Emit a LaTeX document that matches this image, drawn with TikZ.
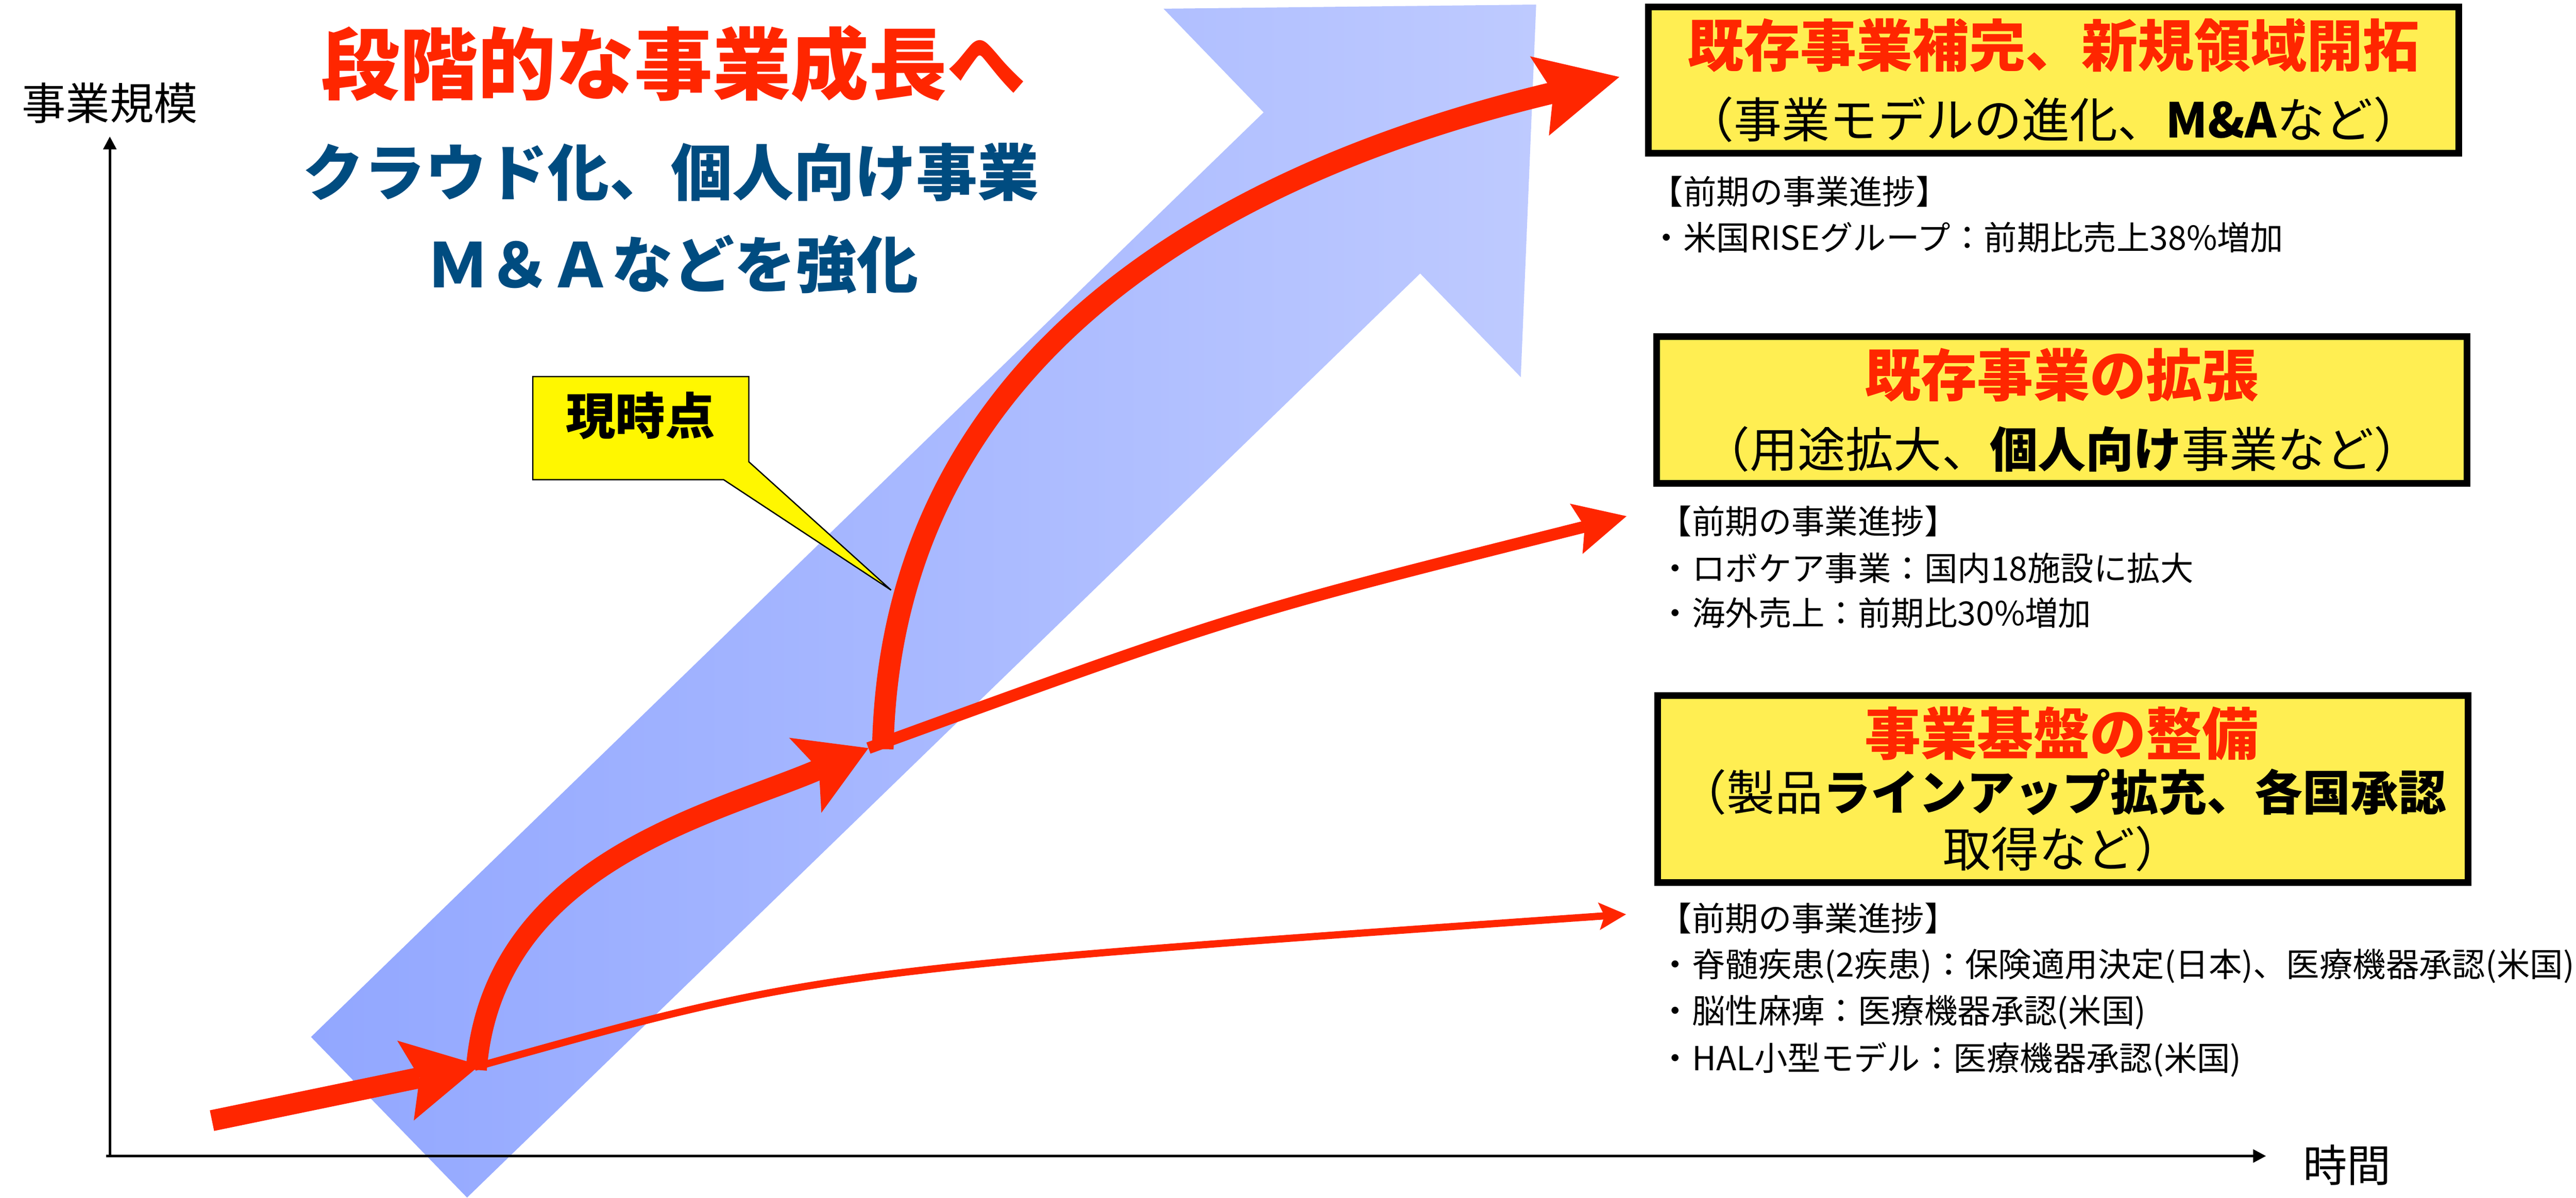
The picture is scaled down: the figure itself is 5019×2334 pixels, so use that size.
\documentclass[tikz,border=0pt]{standalone}
\usepackage{fontspec}
\setmainfont{Noto Sans CJK JP}
\usetikzlibrary{arrows.meta}
\definecolor{redA}{RGB}{255,38,0}
\definecolor{blueT}{RGB}{0,76,128}
\definecolor{boxY}{RGB}{255,238,82}
\definecolor{callY}{RGB}{255,247,0}
\definecolor{blueL}{RGB}{146,167,255}
\definecolor{blueR}{RGB}{190,202,255}
\begin{document}
\begin{tikzpicture}[x=0.1mm,y=-0.1mm,
  jp/.style={inner sep=0pt, outer sep=0pt},
  ttl/.style={jp, text=redA, font=\fontsize{43.4pt}{50pt}\selectfont\bfseries},
  subttl/.style={jp, text=blueT, font=\fontsize{34pt}{40pt}\selectfont\bfseries},
  axlbl/.style={jp, font=\fontsize{24.4pt}{28pt}\selectfont},
  ybox/.style={draw=black, line width=1.3mm, fill=boxY, inner sep=0pt, outer sep=0pt},
  boxttl/.style={jp, text=redA, font=\fontsize{31.2pt}{36pt}\selectfont\bfseries},
  boxsub/.style={jp, font=\fontsize{26.6pt}{32pt}\selectfont},
  prog/.style={jp, anchor=west, font=\fontsize{18.4pt}{22pt}\selectfont},
  calltxt/.style={jp, font=\fontsize{27.6pt}{32pt}\selectfont\bfseries},
  axisln/.style={line width=0.5mm, -{Triangle[length=2.5mm,width=2.5mm]}},
  thickred/.style={draw=redA, line cap=butt},
]
\useasboundingbox (0,0) rectangle (5019,2334);
\fill[white] (0,0) rectangle (5019,2334);

% big blue arrow
\shade[left color=blueL, right color=blueR]
  (606,2021) -- (2462,219) -- (2267,17) -- (2993,9) -- (2963,735) -- (2767,533) -- (910,2334) -- cycle;

% axes
\coordinate (o) at (214,2253);
\coordinate (yt) at (214,266);
\coordinate (xl) at (207,2253);
\coordinate (xt) at (4415,2253);
\draw[axisln] (o) -- (yt);
\draw[axisln] (xl) -- (xt);
\node[axlbl] (ylab) at (214,201) {事業規模};
\node[axlbl] (xlab) at (4573,2271) {時間};

% callout
\filldraw[fill=callY, draw=black, line width=0.25mm]
  (1038,734) -- (1459,734) -- (1459,900) -- (1736,1150) -- (1410,935) -- (1038,935) -- cycle;
\node[calltxt] (now) at (1248,810) {現時点};

% red arrows
\coordinate (aS) at (413,2184);
\coordinate (aT) at (935,2076);
\coordinate (bS) at (925,2080);
\coordinate (bT) at (3168,1782);
\coordinate (cS) at (928,2085);
\coordinate (cT) at (1692,1458);
\coordinate (dS) at (1692,1458);
\coordinate (dT) at (3169,1006);
\coordinate (eS) at (1720,1460);
\coordinate (eT) at (3155,150);

\draw[thickred, line width=4.1mm, -{Stealth[length=14.8mm,width=15.9mm,inset=2.8mm,line width=0pt]}] (aS) -- (aT);
\draw[thickred, line width=1.4mm, -{Stealth[length=5.3mm,width=5.4mm,inset=1.1mm,line width=0pt]}] (bS) .. controls (1591,1893) .. (bT);
\draw[thickred, line width=4.1mm, -{Stealth[length=13.4mm,width=15.9mm,inset=2.9mm,line width=0pt]}] (cS) .. controls (960,1680) and (1392,1587) .. (cT);
\draw[thickred, line width=2.3mm, -{Stealth[length=10.1mm,width=10.1mm,inset=1.7mm,line width=0pt]}] (dS) .. controls (2409,1197) .. (dT);
\draw[thickred, line width=4.2mm, -{Stealth[length=16mm,width=15.9mm,inset=2.8mm,line width=0pt]}] (eS) .. controls (1735,680) and (2400,330) .. (eT);

% left texts
\node[ttl] (title) at (1312,124) {段階的な事業成長へ};
\node[subttl] (sub1) at (1307,336) {クラウド化、個人向け事業};
\node[subttl] (sub2) at (1311,515) {Ｍ＆Ａなどを強化};

% box 1
\node[ybox, minimum width=157.9mm, minimum height=28.5mm] (b1) at (4001.5,156.5) {};
\node[boxttl] (b1a) at (4001,88) {既存事業補完、新規領域開拓};
\node[boxsub] (b1b) at (4001,233) {（事業モデルの進化、\textbf{M\&A}など）};
\node[prog] (p1a) at (3215,373) {【前期の事業進捗】};
\node[prog] (p1b) at (3215,463) {・米国RISEグループ：前期比売上38\%増加};

% box 2
\node[ybox, minimum width=157.9mm, minimum height=28.6mm] (b2) at (4017.5,799) {};
\node[boxttl] (b2a) at (4017,731) {既存事業の拡張};
\node[boxsub] (b2b) at (4017,875) {（用途拡大、\textbf{個人向け}事業など）};
\node[prog] (p2a) at (3232,1016) {【前期の事業進捗】};
\node[prog] (p2b) at (3232,1107) {・ロボケア事業：国内18施設に拡大};
\node[prog] (p2c) at (3232,1195) {・海外売上：前期比30\%増加};

% box 3
\node[ybox, minimum width=157.9mm, minimum height=36.4mm] (b3) at (4019.5,1538) {};
\node[boxttl] (b3a) at (4017,1430) {事業基盤の整備};
\node[boxsub] (b3b) at (4019,1544) {（製品\textbf{ラインアップ拡充、各国承認}};
\node[boxsub] (b3c) at (4019,1654) {取得など）};
\node[prog] (p3a) at (3232,1790) {【前期の事業進捗】};
\node[prog] (p3b) at (3232,1883) {・脊髄疾患(2疾患)：保険適用決定(日本)、医療機器承認(米国)};
\node[prog] (p3c) at (3232,1973) {・脳性麻痺：医療機器承認(米国)};
\node[prog] (p3d) at (3232,2065) {・HAL小型モデル：医療機器承認(米国)};
\end{tikzpicture}
\end{document}
